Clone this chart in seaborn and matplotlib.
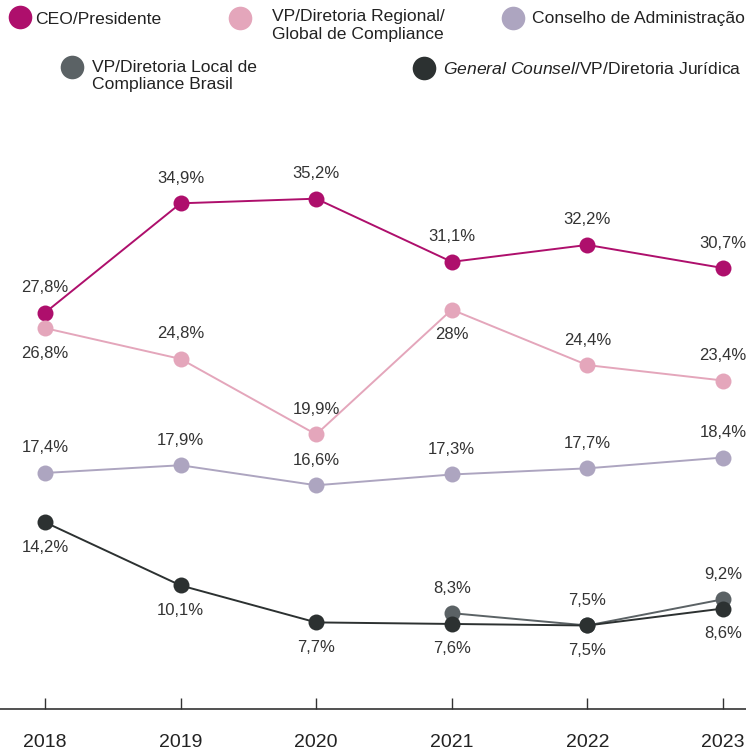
import numpy as np
import pandas as pd
import matplotlib
matplotlib.use("Agg")
import matplotlib.pyplot as plt
from matplotlib.lines import Line2D
import seaborn as sns

# ---- data ----
years = [2018, 2019, 2020, 2021, 2022, 2023]
ceo = [27.8, 34.9, 35.2, 31.1, 32.2, 30.7]
vp_regional = [26.8, 24.8, 19.9, 28.0, 24.4, 23.4]
conselho = [17.4, 17.9, 16.6, 17.3, 17.7, 18.4]
vp_local = [None, None, None, 8.3, 7.5, 9.2]
general_counsel = [14.2, 10.1, 7.7, 7.6, 7.5, 8.6]

series_names = [
    "CEO/Presidente",
    "VP/Diretoria Regional/\nGlobal de Compliance",
    "Conselho de Administração",
    "VP/Diretoria Local de\nCompliance Brasil",
    "General Counsel/VP/Diretoria Jurídica",
]
series_values = [ceo, vp_regional, conselho, vp_local, general_counsel]

# ---- styles ----
colors = ["#AE0F6C", "#E4A6BB", "#ADA5C0", "#5B6265", "#2C3131"]
# label placement: +1 above, -1 below
label_side = [
    [1, 1, 1, 1, 1, 1],
    [-1, 1, 1, -1, 1, 1],
    [1, 1, 1, 1, 1, 1],
    [1, 1, 1, 1, 1, 1],
    [-1, -1, -1, -1, -1, -1],
]

rows = []
for name, vals in zip(series_names, series_values):
    for y, v in zip(years, vals):
        if v is not None:
            rows.append({"Ano": y, "Valor": v, "Serie": name})
df = pd.DataFrame(rows)

sns.set_theme(style="white")
plt.rcParams["font.family"] = ["Liberation Sans", "DejaVu Sans"]
plt.rcParams["mathtext.fontset"] = "custom"
plt.rcParams["mathtext.it"] = "Liberation Sans:italic"
plt.rcParams["mathtext.rm"] = "Liberation Sans"

W, H = 746, 751
fig = plt.figure(figsize=(W / 100, H / 100), dpi=100)
ax = fig.add_axes([0, 1 - 709 / H, 1, (709 - 150) / H])

palette = dict(zip(series_names, colors))
sns.lineplot(data=df, x="Ano", y="Valor", hue="Serie", hue_order=series_names,
             palette=palette, marker="o", markersize=11.5, markeredgewidth=0,
             linewidth=1.4, sort=False, legend=False, ax=ax)

def fmt(v):
    s = f"{v:.1f}".replace(".", ",")
    if s.endswith(",0"):
        s = s[:-2]
    return s + "%"

for vals, sides in zip(series_values, label_side):
    for y, v, sd in zip(years, vals, sides):
        if v is None:
            continue
        ax.annotate(fmt(v), (y, v), xytext=(0, 18 * sd), textcoords="offset points",
                    ha="center", va="center", fontsize=12, color="#333333")

ax.set_xlim(2017.668, 2023.17)
ax.set_ylim(2.08, 38.36)
ax.set_xticks(years)
ax.set_xticklabels([str(y) for y in years])
ax.set_yticks([])
ax.set_xlabel("")
ax.set_ylabel("")
for s in ["top", "left", "right"]:
    ax.spines[s].set_visible(False)
ax.spines["bottom"].set_color("#333333")
ax.spines["bottom"].set_linewidth(1.2)
ax.tick_params(axis="x", direction="in", length=8, width=1, color="#333333",
               pad=18, labelsize=14, labelcolor="#222222", bottom=True)
ax.patch.set_alpha(0)

# ---- legend (manual layout, pixel positions from top-left) ----
legend_labels = [
    ["CEO/Presidente"],
    ["VP/Diretoria Regional/", "Global de Compliance"],
    ["Conselho de Administração"],
    ["VP/Diretoria Local de", "Compliance Brasil"],
    [r"$\mathit{General\ Counsel}$/VP/Diretoria Jurídica"],
]
legend_layout = [  # marker x, marker y, text x, line y's
    (20, 17, 35, [19]),
    (240, 18, 272, [16, 34]),
    (513, 18, 532, [19]),
    (72, 67, 92, [67, 85]),
    (424, 68, 443, [69]),
]

def fx(px):
    return px / W

def fy(py):
    return 1 - py / H

for c, lines, (mx, my, tx, lys) in zip(colors, legend_labels, legend_layout):
    fig.add_artist(Line2D([fx(mx)], [fy(my)], transform=fig.transFigure,
                          linestyle="none", marker="o", markersize=17,
                          markerfacecolor=c, markeredgewidth=0))
    for txt, ly in zip(lines, lys):
        fig.text(fx(tx), fy(ly), txt, ha="left", va="center", fontsize=12.6,
                 color="#222222")

fig.savefig("out.png", dpi=100)
